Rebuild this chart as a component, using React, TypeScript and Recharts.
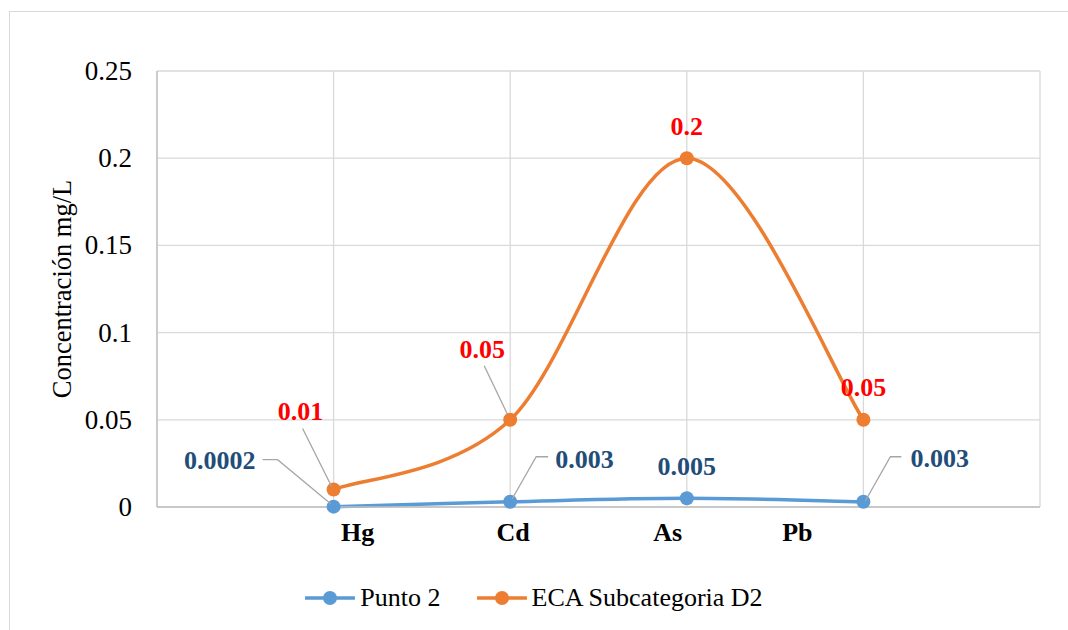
import React from "react";
import {
  CartesianGrid,
  LabelList,
  Line,
  LineChart,
  XAxis,
  YAxis,
} from "recharts";

const CATEGORIES = ["Hg", "Cd", "As", "Pb"];
const PUNTO_2 = [0.0002, 0.003, 0.005, 0.003];
const ECA_D2 = [0.01, 0.05, 0.2, 0.05];
const PUNTO_2_LABELS = ["0.0002", "0.003", "0.005", "0.003"];
const ECA_D2_LABELS = ["0.01", "0.05", "0.2", "0.05"];
const Y_TICKS = [0, 0.05, 0.1, 0.15, 0.2, 0.25];
const Y_TICK_LABELS = ["0", "0.05", "0.1", "0.15", "0.2", "0.25"];
const X_TICKS = [0, 1, 2, 3, 4, 5];

const chartData = CATEGORIES.map((name, i) => ({
  x: i + 1,
  name,
  punto: PUNTO_2[i],
  eca: ECA_D2[i],
}));

const FONT = "Liberation Serif";
const BLUE = "#5B9BD5";
const ORANGE = "#ED7D31";
const BLUE_TEXT = "#1F4E79";
const RED_TEXT = "#FF0000";
const LEADER = "#A6A6A6";
const GRID = "#D9D9D9";

// Excel-like smoothed line (Catmull-Rom as cubic beziers)
const excelSmooth = (context: any) => {
  let pts: number[][] = [];
  return {
    areaStart() {},
    areaEnd() {},
    lineStart() {
      pts = [];
    },
    point(x: number, y: number) {
      pts.push([+x, +y]);
    },
    lineEnd() {
      if (!pts.length) return;
      context.moveTo(pts[0][0], pts[0][1]);
      for (let i = 0; i < pts.length - 1; i++) {
        const p0 = pts[i - 1] || pts[i];
        const p1 = pts[i];
        const p2 = pts[i + 1];
        const p3 = pts[i + 2] || p2;
        context.bezierCurveTo(
          p1[0] + (p2[0] - p0[0]) / 6,
          p1[1] + (p2[1] - p0[1]) / 6,
          p2[0] - (p3[0] - p1[0]) / 6,
          p2[1] - (p3[1] - p1[1]) / 6,
          p2[0],
          p2[1],
        );
      }
    },
  };
};

// label placement relative to the point (styling only)
const bluePlacement = [
  { dx: -78, dy: -38, anchor: "end", leader: [[-71, -47], [-56, -47], [-3, -3]] },
  { dx: 45, dy: -34, anchor: "start", leader: [[38, -45], [26, -45], [2, -3]] },
  { dx: 0, dy: -23, anchor: "middle", leader: null },
  { dx: 47, dy: -35, anchor: "start", leader: [[38, -45], [27, -45], [2, -1]] },
];

const redPlacement = [
  { dx: -33, dy: -70, anchor: "middle", leader: [[-31, -61], [-2, -3]] },
  { dx: -28, dy: -62, anchor: "middle", leader: [[-26, -54], [-3, -6]] },
  { dx: 0, dy: -23, anchor: "middle", leader: null },
  { dx: 0, dy: -24, anchor: "middle", leader: null },
];

const makeLabel =
  (texts: string[], placement: any[], color: string) => (props: any) => {
    const { x, y, index } = props;
    const p = placement[index];
    if (!p || x == null || y == null) return null;
    return (
      <g>
        {p.leader ? (
          <polyline
            points={p.leader.map(([a, b]: number[]) => `${x + a},${y + b}`).join(" ")}
            fill="none"
            stroke={LEADER}
            strokeWidth={1.3}
          />
        ) : null}
        <text
          x={x + p.dx}
          y={y + p.dy}
          textAnchor={p.anchor}
          fill={color}
          style={{ fontFamily: FONT, fontWeight: 700, fontSize: 26 }}
        >
          {texts[index]}
        </text>
      </g>
    );
  };

const TICK_DX = [24, 3, -19, -66];

const CategoryTick = (props: any) => {
  const { x, y, payload } = props;
  const i = payload.value - 1;
  if (i < 0 || i >= CATEGORIES.length) return null;
  return (
    <text
      x={x + TICK_DX[i]}
      y={y + 34}
      textAnchor="middle"
      fill="#000"
      style={{ fontFamily: FONT, fontWeight: 700, fontSize: 26 }}
    >
      {CATEGORIES[i]}
    </text>
  );
};

const ValueTick = (props: any) => {
  const { x, y, payload } = props;
  const i = Y_TICKS.indexOf(payload.value);
  return (
    <text
      x={x}
      y={y + 9}
      textAnchor="end"
      fill="#000"
      style={{ fontFamily: FONT, fontSize: 27 }}
    >
      {i >= 0 ? Y_TICK_LABELS[i] : payload.value}
    </text>
  );
};

const AxisTitle = (props: any) => {
  const { viewBox } = props;
  const cy = viewBox.y + viewBox.height / 2;
  const cx = 62;
  return (
    <text
      x={cx}
      y={cy}
      transform={`rotate(-90, ${cx}, ${cy})`}
      textAnchor="middle"
      dominantBaseline="central"
      fill="#000"
      style={{ fontFamily: FONT, fontSize: 26.5 }}
    >
      Concentración mg/L
    </text>
  );
};

const LegendIcon = ({ color }: { color: string }) => (
  <svg width={50} height={16} style={{ display: "block" }}>
    <line x1={1} y1={8} x2={49} y2={8} stroke={color} strokeWidth={3.5} strokeLinecap="round" />
    <circle cx={25} cy={8} r={7} fill={color} />
  </svg>
);

const ChartLegend = () => (
  <div
    style={{
      position: "absolute",
      left: 0,
      top: 580,
      width: 1068,
      height: 36,
      display: "flex",
      justifyContent: "center",
      alignItems: "center",
      gap: 36,
      fontFamily: FONT,
      fontSize: 26,
      color: "#000",
    }}
  >
    <div style={{ display: "flex", alignItems: "center", gap: 5 }}>
      <LegendIcon color={BLUE} />
      <span>Punto 2</span>
    </div>
    <div style={{ display: "flex", alignItems: "center", gap: 5 }}>
      <LegendIcon color={ORANGE} />
      <span>ECA Subcategoria D2</span>
    </div>
  </div>
);

export default function App() {
  return (
    <div
      style={{
        position: "absolute",
        left: 0,
        top: 0,
        width: 1068,
        height: 630,
        overflow: "hidden",
        background: "#fff",
      }}
    >
      <div
        style={{
          position: "absolute",
          left: 9,
          top: 11,
          width: 1200,
          height: 800,
          border: `1px solid ${GRID}`,
        }}
      />
      <LineChart
        width={1068}
        height={630}
        data={chartData}
        margin={{ top: 71, right: 28, bottom: 83, left: 57 }}
        style={{ position: "absolute", left: 0, top: 0 }}
      >
        <CartesianGrid stroke={GRID} strokeWidth={1.3} />
        <XAxis
          type="number"
          dataKey="x"
          domain={[0, 5]}
          ticks={X_TICKS}
          interval={0}
          axisLine={{ stroke: "#BFBFBF", strokeWidth: 1.3 }}
          tickLine={false}
          tickSize={0}
          tickMargin={0}
          tick={<CategoryTick />}
          height={40}
        />
        <YAxis
          type="number"
          domain={[0, 0.25]}
          ticks={Y_TICKS}
          interval={0}
          width={100}
          axisLine={{ stroke: "#BFBFBF", strokeWidth: 1.3 }}
          tickLine={false}
          tickSize={0}
          tickMargin={25}
          tick={<ValueTick />}
          label={<AxisTitle />}
        />
        <Line
          name="Punto 2"
          dataKey="punto"
          type={excelSmooth as any}
          stroke={BLUE}
          strokeWidth={3.5}
          dot={{ r: 7, fill: BLUE, stroke: BLUE, strokeWidth: 0 }}
          activeDot={false}
          isAnimationActive={false}
        >
          <LabelList
            dataKey="punto"
            content={makeLabel(PUNTO_2_LABELS, bluePlacement, BLUE_TEXT)}
          />
        </Line>
        <Line
          name="ECA Subcategoria D2"
          dataKey="eca"
          type={excelSmooth as any}
          stroke={ORANGE}
          strokeWidth={3.5}
          dot={{ r: 7, fill: ORANGE, stroke: ORANGE, strokeWidth: 0 }}
          activeDot={false}
          isAnimationActive={false}
        >
          <LabelList
            dataKey="eca"
            content={makeLabel(ECA_D2_LABELS, redPlacement, RED_TEXT)}
          />
        </Line>
      </LineChart>
      <ChartLegend />
    </div>
  );
}
